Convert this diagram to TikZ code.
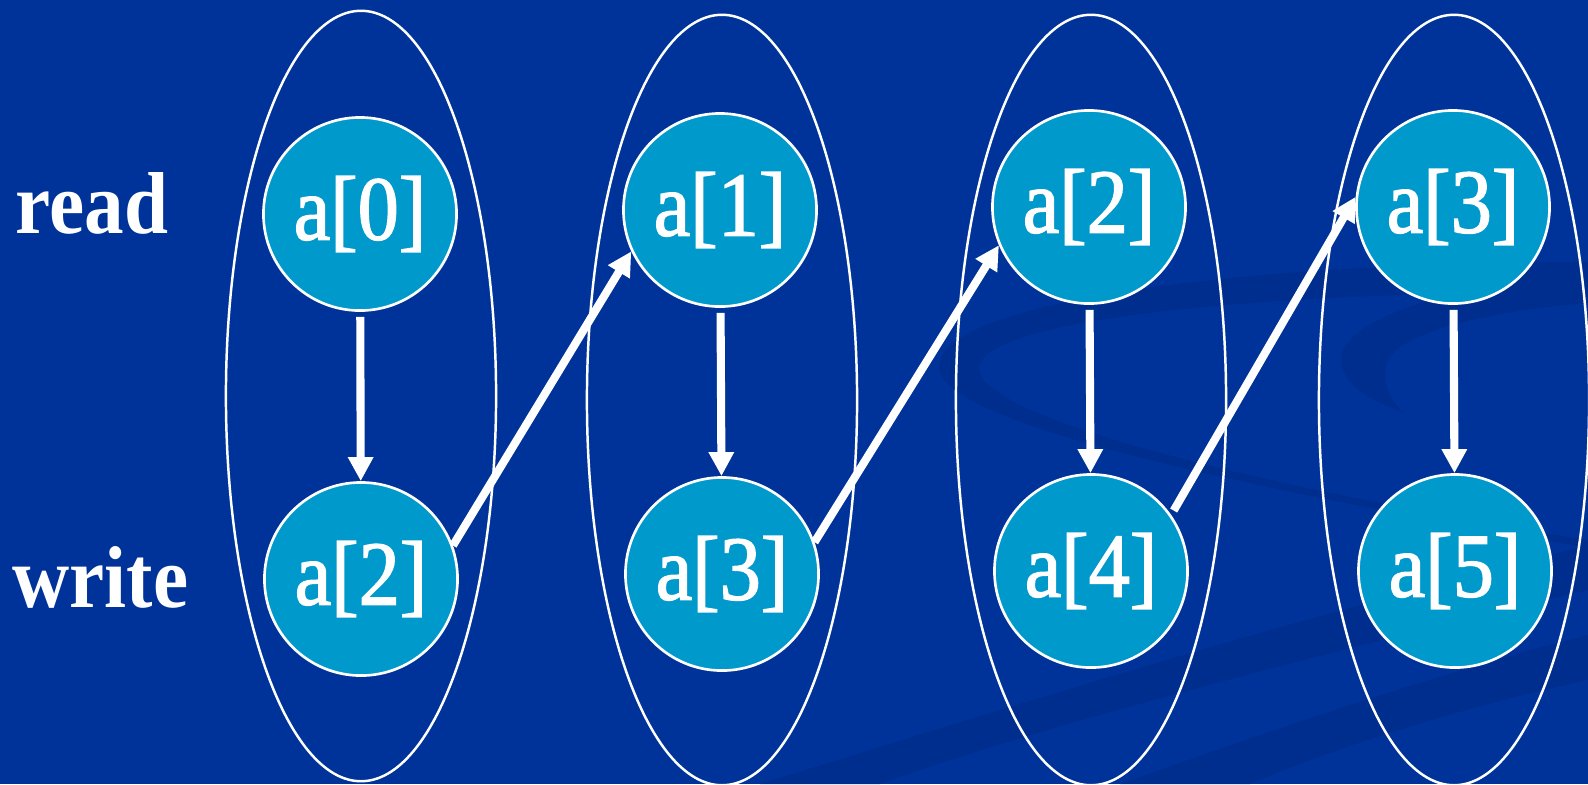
\documentclass[tikz,border=0pt]{standalone}
\usepackage{fontspec}
\setmainfont{Liberation Serif}[FakeStretch=0.9]
\newfontfamily\cellfont{Liberation Serif}[FakeStretch=0.9,FakeBold=1.5]
\usetikzlibrary{arrows.meta,shapes.geometric}
\definecolor{slidebg}{RGB}{0,51,153}
\definecolor{swirl}{RGB}{0,46,143}
\definecolor{cellfill}{RGB}{0,153,204}

\begin{document}
\begin{tikzpicture}[x=0.01cm,y=-0.01cm,
  cell/.style={circle, draw=white, line width=0.75pt, fill=cellfill,
    minimum size=1.93cm, inner sep=0pt, text=white,
    font=\cellfont\fontsize{26}{30}\selectfont},
  group/.style={ellipse, draw=white, line width=0.7pt, inner sep=0pt,
    minimum width=2.7cm, minimum height=7.7cm},
  rowlabel/.style={anchor=base west, inner sep=0pt, text=white,
    font=\fontsize{25}{30}\selectfont\bfseries},
  flow/.style={draw=white, line width=2.3pt,
    -{Triangle[width=0.24cm,length=0.24cm]}}
]
% slide background
\fill[slidebg] (0,0) rectangle (1588,784);
\useasboundingbox (0,0) rectangle (1588,784);

% faint background swooshes
\fill[swirl] (1588,262) .. controls (1250,262) and (940,300) .. (939,367)
  .. controls (940,420) and (1200,480) .. (1588,548) -- (1588,540)
  .. controls (1220,480) and (985,415) .. (979,370)
  .. controls (975,320) and (1250,292) .. (1588,292) -- cycle;
\fill[swirl] (1588,272) .. controls (1450,285) and (1340,320) .. (1341,360)
  .. controls (1342,385) and (1370,400) .. (1404,413)
  .. controls (1390,400) and (1382,385) .. (1387,362)
  .. controls (1400,330) and (1500,310) .. (1588,303) -- cycle;
\fill[swirl] (760,784) .. controls (1000,710) and (1250,630) .. (1588,545)
  -- (1588,590) .. controls (1250,670) and (1000,740) .. (880,784) -- cycle;
\fill[swirl] (1120,784) .. controls (1300,720) and (1450,670) .. (1588,635)
  -- (1588,680) .. controls (1450,710) and (1330,750) .. (1250,784) -- cycle;

% containers
\node[group] (g0) at (361,396) {};
\node[group] (g1) at (722,400) {};
\node[group] (g2) at (1091,400) {};
\node[group] (g3) at (1454,400) {};

% row labels
\node[rowlabel] (lread)  at (15,233) {read};
\node[rowlabel] (lwrite) at (12,607) {write};

% array cells
\node[cell] (r0) at (360,214) {a[0]};
\node[cell] (w0) at (361,579) {a[2]};
\node[cell] (r1) at (720,210) {a[1]};
\node[cell] (w1) at (722,574) {a[3]};
\node[cell] (r2) at (1089,207) {a[2]};
\node[cell] (w2) at (1091,571) {a[4]};
\node[cell] (r3) at (1453,207) {a[3]};
\node[cell] (w3) at (1455,571) {a[5]};

% read -> write within each step
\draw[flow, shorten <=0.05cm] (r0) -- (w0);
\draw[flow, shorten <=0.05cm] (r1) -- (w1);
\draw[flow, shorten <=0.05cm] (r2) -- (w2);
\draw[flow, shorten <=0.05cm] (r3) -- (w3);

% write -> next read
\draw[flow] (w0.20) -- (r1.205);
\draw[flow] (w1.19) -- (r2.203);
\draw[flow, shorten <=0.05cm] (w2.35) -- (r3.174);
\end{tikzpicture}
\end{document}
